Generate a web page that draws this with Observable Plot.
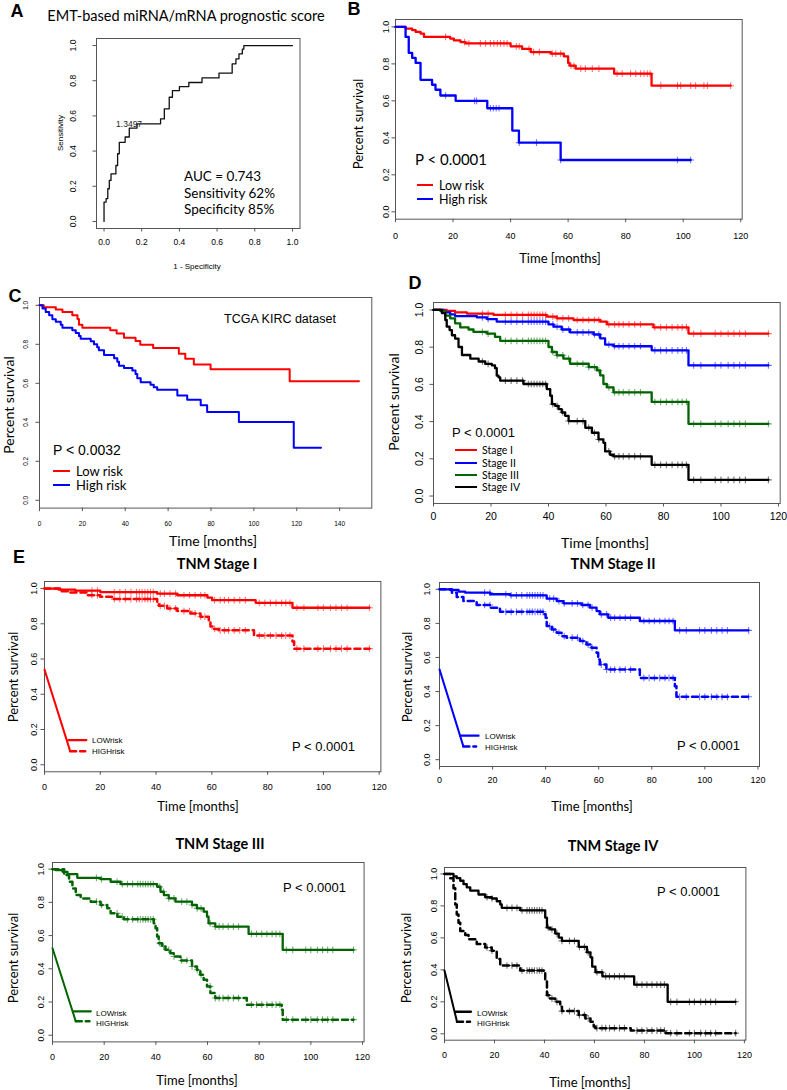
<!DOCTYPE html>
<html><head><meta charset="utf-8">
<script src="https://cdn.jsdelivr.net/npm/d3@7"></script>
<script src="https://cdn.jsdelivr.net/npm/@observablehq/plot@0.6"></script>
<style>
body{margin:0;background:#fff;}
#fig{position:relative;width:787px;height:1090px;overflow:hidden;background:#fff;}
.t{position:absolute;white-space:nowrap;line-height:1;color:#000;}
.lg{position:absolute;}
svg{overflow:visible;}
</style></head><body><div id="fig"></div>
<script>
// ---------------- DATA ----------------
// Panel A: ROC staircase (fpr, tpr) – rise happens at fpr
const rocPoints = [[0,0],[0,0.11],[0.011,0.13],[0.02,0.186],[0.028,0.233],[0.037,0.27],[0.063,0.318],[0.072,0.385],[0.081,0.45],[0.112,0.48],[0.134,0.53],[0.175,0.555],[0.30,0.583],[0.32,0.64],[0.346,0.706],[0.363,0.744],[0.40,0.767],[0.45,0.79],[0.52,0.816],[0.61,0.843],[0.68,0.896],[0.70,0.924],[0.716,0.953],[0.734,0.98],[0.742,1.0],[1.0,1.0]];
const rocThreshold = [{fpr:0.133, tpr:0.55, label:"1.3497"}];
const aucLines = ["AUC = 0.743","Sensitivity 62%","Specificity 85%"];
const unitTicks = [0,0.2,0.4,0.6,0.8,1.0];
const monthTicks = [0,20,40,60,80,100,120];
const monthTicksC = [0,20,40,60,80,100,120,140];

// Panel B: KM (time, survival after step)
const bLow = [[0,1],[3.5,0.991],[5.8,0.982],[7,0.973],[8.7,0.964],[9.9,0.946],[19,0.937],[20.3,0.927],[22.6,0.918],[24.3,0.911],[40,0.895],[44,0.881],[47,0.864],[54,0.855],[58.5,0.841],[60,0.805],[60.5,0.79],[62.6,0.774],[76,0.747],[89,0.682]];
const bLowEnd = 116.5;
const bLowCensor = [17.4,24,25.5,29.5,31.3,33,34.2,35.4,36.5,37.7,38.8,42,43,46.4,48,50,54.5,55.7,57.4,61,62,64.4,66,68.4,70.7,77,78.8,81.7,83.5,85.2,86.4,87.5,88.5,92.2,98,99.1,102.6,104.3,107.2,108.4,116.5];
const bHigh = [[0,1],[3.5,0.946],[4.6,0.859],[5.8,0.832],[7,0.805],[8.7,0.714],[12.7,0.687],[13.9,0.66],[15.6,0.629],[20.9,0.6],[31.9,0.56],[40.6,0.439],[42.9,0.374],[57.4,0.28]];
const bHighEnd = 102.6;
const bHighCensor = [17.4,27.5,28.2,33,34,35,36,43,49,57.4,98,102.6];

// Panel C: TCGA KIRC
const cLow = [[0,1],[2,0.99],[7.6,0.979],[10.7,0.966],[15.3,0.949],[17.7,0.93],[18.4,0.9],[20,0.885],[33,0.872],[36,0.855],[39.4,0.834],[44.8,0.817],[47,0.798],[53,0.781],[65,0.752],[68,0.726],[72,0.697],[79.8,0.672],[116.7,0.61]];
const cLowEnd = 149;
const cHigh = [[0,1],[1.4,0.983],[2.9,0.966],[4.5,0.949],[6,0.929],[7.6,0.915],[9.9,0.9],[10.7,0.885],[15.3,0.872],[16.9,0.858],[18.4,0.843],[19.2,0.829],[23.9,0.815],[25.4,0.8],[26.9,0.785],[27.7,0.77],[30.1,0.745],[34.8,0.728],[36.3,0.71],[37.1,0.69],[39.4,0.679],[43.3,0.665],[44.8,0.648],[45.6,0.626],[47.2,0.605],[51.8,0.592],[53.3,0.58],[54.9,0.567],[64.3,0.538],[68.9,0.516],[75.2,0.487],[78.2,0.453],[93,0.402],[118.6,0.27]];
const cHighEnd = 131.3;

// Panel D: stages
const stageNames = ["Stage I","Stage II","Stage III","Stage IV"];
const dStage1 = [[0,1],[4.6,0.995],[7.5,0.987],[11.6,0.98],[20.9,0.973],[39.4,0.964],[42.9,0.955],[48.7,0.946],[58,0.937],[60.3,0.922],[76.5,0.906],[88.7,0.873]];
const dStage2 = [[0,1],[3.5,0.987],[5.8,0.976],[7.5,0.967],[15.1,0.96],[18.6,0.951],[22,0.937],[40,0.922],[41.8,0.91],[44.6,0.895],[47.5,0.879],[55.7,0.868],[58,0.847],[59.7,0.814],[62.6,0.805],[75.9,0.783],[88.7,0.702]];
const dStage3 = [[0,1],[2.3,0.995],[4.1,0.969],[5.8,0.955],[7.5,0.928],[9.3,0.906],[12.2,0.895],[13.9,0.882],[18.6,0.873],[21.4,0.855],[23.2,0.834],[40,0.801],[41.2,0.774],[42.9,0.756],[45.2,0.738],[47.5,0.711],[54,0.693],[56.8,0.675],[58,0.648],[59.1,0.602],[60.3,0.584],[62.6,0.557],[75.9,0.506],[88.7,0.388]];
const dStage4 = [[0,1],[2.9,0.983],[4.1,0.946],[4.6,0.91],[5.6,0.892],[6.4,0.864],[7.5,0.846],[8.7,0.801],[9.9,0.758],[12.8,0.738],[15.7,0.723],[18,0.71],[20.3,0.702],[21.4,0.687],[22,0.647],[22.6,0.638],[23.2,0.62],[31.3,0.602],[39.4,0.575],[40.6,0.539],[41.2,0.494],[42.3,0.485],[43.5,0.467],[44.6,0.449],[45.8,0.431],[47,0.403],[52.8,0.367],[55.1,0.34],[57.4,0.304],[59.1,0.286],[59.7,0.24],[61.4,0.222],[62.6,0.213],[75.9,0.168],[88.7,0.087]];
const cohortEnd = 116.5;
const cohortCensor = [17,19,25,27,29,31,33,34,35,36,37,38,39,41.5,43,45,47,50,52,54,56,57.5,61,63,64.5,66,68,70,72,77,79,81,83,85,86.5,88,90.5,93,98,100,102.5,104.5,106.5,108.5,116.5];

// Panel E: LOW (solid) vs HIGH (dashed) per TNM stage
const e1Low = [[0,1],[5,0.994],[11,0.988],[20,0.98],[40.4,0.971],[47.6,0.962],[58.4,0.949],[60.1,0.934],[75.7,0.919],[88.9,0.891]];
const e1High = [[0,1],[5.6,0.984],[9.2,0.977],[15.2,0.962],[20,0.953],[24.2,0.94],[40.4,0.925],[41,0.902],[44,0.887],[47.6,0.872],[52.4,0.859],[55.9,0.84],[58.9,0.812],[59.5,0.784],[60.7,0.771],[62.5,0.763],[75.1,0.733],[88.9,0.7],[89.5,0.659]];
const e2Low = [[0,1],[4,0.996],[7.2,0.986],[9.7,0.98],[19.1,0.971],[26.6,0.965],[40.4,0.945],[44.2,0.931],[46.7,0.918],[53.6,0.908],[56.7,0.892],[59.2,0.872],[60.4,0.853],[63.6,0.833],[75.5,0.814],[88.7,0.759]];
const e2High = [[0,1],[4.7,0.98],[6.5,0.955],[9,0.931],[14,0.908],[19.1,0.892],[22.8,0.868],[39.1,0.853],[40,0.833],[40.4,0.784],[42.3,0.764],[44.2,0.745],[46,0.725],[47.9,0.716],[52.9,0.696],[55.4,0.676],[57.3,0.657],[59.2,0.627],[59.8,0.588],[60.4,0.559],[62.9,0.529],[75.5,0.48],[88.7,0.431],[89.3,0.369]];
const e3Low = [[0,1],[1.3,0.994],[3.9,0.984],[5.8,0.97],[9.6,0.948],[18.6,0.94],[22.5,0.924],[26.4,0.91],[40.5,0.894],[41.8,0.864],[43.1,0.844],[45,0.824],[47.6,0.804],[54,0.784],[55.9,0.764],[58.5,0.744],[59.8,0.714],[60.4,0.674],[63,0.654],[75.9,0.61],[89.1,0.514]];
const e3High = [[0,1],[4.5,0.964],[6.4,0.924],[7.7,0.884],[9,0.844],[10.9,0.824],[14.8,0.804],[18.6,0.784],[21.2,0.764],[22.5,0.734],[25.1,0.714],[27.6,0.698],[39.2,0.674],[39.9,0.644],[40.5,0.594],[41.1,0.554],[42.4,0.534],[43.7,0.514],[45.6,0.494],[46.9,0.474],[49.5,0.45],[54,0.414],[55.9,0.394],[57.2,0.364],[58.5,0.334],[59.8,0.294],[61.1,0.254],[63,0.224],[75.2,0.184],[88.7,0.154],[89.1,0.094]];
const e4Low = [[0,1],[3.6,0.985],[4.9,0.973],[6.3,0.957],[7.6,0.936],[8.9,0.916],[10.3,0.895],[13.6,0.871],[16.3,0.854],[18.9,0.846],[20.9,0.829],[22.3,0.809],[22.9,0.788],[30.3,0.772],[40.3,0.726],[41,0.664],[42.3,0.653],[44.3,0.627],[45.7,0.602],[47,0.581],[53.7,0.544],[57,0.509],[58.4,0.478],[59.1,0.42],[60.4,0.385],[63.2,0.359],[75.9,0.307],[89.3,0.2]];
const e4High = [[0,1],[2.3,0.973],[3.6,0.911],[4.3,0.808],[4.9,0.746],[5.6,0.695],[6.3,0.643],[8.3,0.618],[9.6,0.592],[12.9,0.561],[16.3,0.54],[18.9,0.52],[20.9,0.468],[22.3,0.427],[30.3,0.396],[39.7,0.385],[40.3,0.334],[41,0.241],[42.3,0.22],[44.3,0.2],[46.3,0.169],[47,0.142],[53.7,0.117],[56.4,0.096],[58.4,0.076],[59.7,0.045],[60.4,0.035],[74.5,0.02],[88.6,0.004]];
// stray legend segment drawn inside each E plot: [time, survival] start & end
const eSlash = [[[0,0.54],[9.2,0.077]],[[0,0.53],[9,0.078]],[[0,0.524],[9,0.084]],[[0,0.396],[5,0.076]]];
const eLegendX = [[8.6,15,9.2,14.6],[7.8,14.7,9,13.8],[8.1,14.8,9,14.3],[4.3,10.6,5,10.2]];
const eLegendY = [[0.14,0.077],[0.141,0.078],[0.144,0.084],[0.138,0.076]];

// ---------------- HELPERS ----------------
const fig = document.getElementById("fig");
const ARIAL = "'Liberation Sans', Arial, sans-serif";
const CALI = "Lato, 'Open Sans', sans-serif";
function T(x, y, s, font, opt = {}) {
  const d = document.createElement("div");
  d.className = "t"; d.textContent = s; d.style.font = font;
  const tx = opt.anchor === "start" ? "0" : opt.anchor === "end" ? "-100%" : "-50%";
  d.style.left = x + "px"; d.style.top = y + "px";
  d.style.transform = `translate(${tx},-50%)` + (opt.rot ? ` rotate(${opt.rot}deg)` : "");
  fig.appendChild(d);
}
function L(x1, x2, y, color, w = 2.5) {
  const d = document.createElement("div"); d.className = "lg";
  d.style.left = x1 + "px"; d.style.top = (y - w / 2) + "px";
  d.style.width = (x2 - x1) + "px"; d.style.height = w + "px"; d.style.background = color;
  fig.appendChild(d);
}
function stepAt(steps, t) {
  const i = d3.bisector(d => d[0]).right(steps, t) - 1;
  return steps[Math.max(0, i)][1];
}
const withEnd = (steps, end) => [...steps, [end, steps[steps.length - 1][1]]];

function place(svg, fl, ft, mL, mT) {
  svg.style.position = "absolute";
  svg.style.left = (fl - mL) + "px";
  svg.style.top = (ft - mT) + "px";
  fig.appendChild(svg);
}

function kmPanel(cfg) {
  const [fl, ft, fr, fb] = cfg.frame;
  const mL = 45, mR = 10, mT = 10, mB = 40;
  const marks = [
    Plot.frame({stroke: "#555", strokeWidth: 1}),
    Plot.axisX(cfg.xTicks, {tickSize: 3.5, tickPadding: cfg.xPad, label: null, fontSize: cfg.tickFont, stroke: "#555"}),
    Plot.axisY(unitTicks, {tickSize: 3.5, tickRotate: -90, tickPadding: cfg.yPad, tickFormat: d => d.toFixed(1), label: null, fontSize: cfg.tickFont, stroke: "#555"})
  ];
  for (const c of cfg.curves) {
    marks.push(Plot.line(withEnd(c.steps, c.end), {x: d => d[0], y: d => d[1], curve: "step-after", stroke: c.color, strokeWidth: c.width || 2.3, strokeDasharray: c.dash || null}));
    if (c.censor) marks.push(Plot.dot(c.censor.filter(t => t <= c.end), {x: d => d, y: d => stepAt(c.steps, d), symbol: "plus", r: 2.3, stroke: c.color, strokeWidth: 1.1, strokeOpacity: 0.55}));
  }
  if (cfg.extra) marks.push(...cfg.extra);
  const svg = Plot.plot({
    width: fr - fl + mL + mR, height: fb - ft + mT + mB,
    marginLeft: mL, marginRight: mR, marginTop: mT, marginBottom: mB,
    x: {domain: cfg.xDomain}, y: {domain: [-0.04, 1.04]},
    style: {fontFamily: ARIAL, color: "#000", background: "transparent", overflow: "visible"},
    marks
  });
  place(svg, fl, ft, mL, mT);
}

// ---------------- PANEL A ----------------
{
  const [fl, ft, fr, fb] = [96, 38, 299.5, 228];
  const mL = 45, mR = 10, mT = 10, mB = 40;
  const svg = Plot.plot({
    width: fr - fl + mL + mR, height: fb - ft + mT + mB,
    marginLeft: mL, marginRight: mR, marginTop: mT, marginBottom: mB,
    x: {domain: [-0.04, 1.04]}, y: {domain: [-0.04, 1.04]},
    style: {fontFamily: ARIAL, color: "#000", background: "transparent", overflow: "visible"},
    marks: [
      Plot.frame({stroke: "#555"}),
      Plot.axisX(unitTicks, {tickSize: 3.5, tickPadding: 7, label: null, fontSize: 8.5, tickFormat: d => d.toFixed(1), stroke: "#555"}),
      Plot.axisY(unitTicks, {tickSize: 3.5, tickRotate: -90, tickPadding: 17, label: null, fontSize: 8.5, tickFormat: d => d.toFixed(1), stroke: "#555"}),
      Plot.line(rocPoints, {x: d => d[0], y: d => d[1], curve: "step-after", stroke: "#111", strokeWidth: 1.3}),
      Plot.text(rocThreshold, {x: "fpr", y: "tpr", text: "label", fontSize: 8.5, fill: "#222"})
    ]
  });
  place(svg, fl, ft, mL, mT);
  T(17, 11, "A", `bold 18px ${ARIAL}`);
  T(186, 15, "EMT-based miRNA/mRNA prognostic score", `14.5px ${CALI}`);
  T(60, 133, "Sensitivity", `8px ${ARIAL}`, {rot: -90});
  T(197, 266, "1 - Specificity", `8px ${ARIAL}`);
  aucLines.forEach((s, i) => T(184, 176 + i * 16.5, s, `13.5px ${CALI}`, {anchor: "start"}));
}

// ---------------- PANEL B ----------------
kmPanel({frame: [395, 19.3, 741.7, 219], xDomain: [0, 120.5], xTicks: monthTicks, xPad: 9.5, yPad: 3.5, tickFont: 9,
  curves: [
    {steps: bLow, end: bLowEnd, censor: bLowCensor, color: "#ff0000"},
    {steps: bHigh, end: bHighEnd, censor: bHighCensor, color: "#0000ff"}
  ]});
T(354, 9, "B", `bold 18px ${ARIAL}`);
T(358, 124, "Percent survival", `13px ${CALI}`, {rot: -90});
T(560, 258, "Time [months]", `13px ${CALI}`);
T(415, 159, "P < 0.0001", `15px ${CALI}`, {anchor: "start"});
L(417, 433, 185, "#ff0000"); L(417, 433, 199, "#0000ff");
T(439, 185, "Low risk", `12.5px ${CALI}`, {anchor: "start"});
T(439, 199, "High risk", `12.5px ${CALI}`, {anchor: "start"});

// ---------------- PANEL C ----------------
kmPanel({frame: [38.7, 296.7, 371, 507.3], xDomain: [0, 155], xTicks: monthTicksC, xPad: 9.5, yPad: 8, tickFont: 6.5,
  curves: [
    {steps: cLow, end: cLowEnd, color: "#ff0000", width: 2},
    {steps: cHigh, end: cHighEnd, color: "#0000ff", width: 2}
  ]});
T(15, 296, "C", `bold 18px ${ARIAL}`);
T(8, 405, "Percent survival", `14px ${CALI}`, {rot: -90});
T(213, 540, "Time [months]", `14px ${CALI}`);
T(280, 319, "TCGA KIRC dataset", `12.5px ${ARIAL}`);
T(53, 450, "P < 0.0032", `14px ${ARIAL}`, {anchor: "start"});
L(53, 70, 471, "#ff0000"); L(53, 70, 485, "#0000ff");
T(76, 471, "Low risk", `13px ${CALI}`, {anchor: "start"});
T(76, 485, "High risk", `13px ${CALI}`, {anchor: "start"});

// ---------------- PANEL D ----------------
const stageColors = ["#ff0000", "#0000ff", "#006400", "#000000"];
kmPanel({frame: [433.3, 301.7, 780, 502.7], xDomain: [0, 120.6], xTicks: monthTicks, xPad: 6, yPad: 7.4, tickFont: 10.5,
  curves: [dStage1, dStage2, dStage3, dStage4].map((s, i) => ({steps: s, end: cohortEnd, censor: cohortCensor, color: stageColors[i]}))});
T(415, 283, "D", `bold 18px ${ARIAL}`);
T(393, 402, "Percent survival", `14px ${CALI}`, {rot: -90});
T(605, 542, "Time [months]", `14px ${CALI}`);
T(452, 432, "P < 0.0001", `13px ${ARIAL}`, {anchor: "start"});
stageNames.forEach((s, i) => {
  const y = [450, 463, 475, 487][i];
  L(455, 477, y, stageColors[i], 2.5);
  T(482, y, s, `10.5px ${CALI}`, {anchor: "start"});
});

// ---------------- PANEL E ----------------
const eFrames = [[44.3, 580.7, 380.7, 771], [439.3, 581.7, 759.3, 765.7], [51.7, 862.3, 363.3, 1041.7], [444.3, 867.3, 745.7, 1040]];
const eCurves = [[e1Low, e1High], [e2Low, e2High], [e3Low, e3High], [e4Low, e4High]];
const ePads = [[8.5, 4.1], [6.8, 5.8], [7.8, 4.9], [7.5, 4.1]];
const eTitles = ["TNM Stage I", "TNM Stage II", "TNM Stage III", "TNM Stage IV"];
eFrames.forEach((fr, i) => {
  const col = stageColors[i];
  const [lo, hi] = eCurves[i];
  const lx = eLegendX[i], ly = eLegendY[i];
  kmPanel({frame: fr, xDomain: [0, 120.6], xTicks: monthTicks, xPad: ePads[i][0], yPad: ePads[i][1], tickFont: 9,
    curves: [
      {steps: lo, end: cohortEnd, censor: cohortCensor, color: col, width: 2.3},
      {steps: hi, end: cohortEnd, censor: cohortCensor, color: col, width: 2.5, dash: "6,4"}
    ],
    extra: [
      Plot.line(eSlash[i], {x: d => d[0], y: d => d[1], stroke: col, strokeWidth: 2}),
      Plot.line([[lx[0], ly[0]], [lx[1], ly[0]]], {x: d => d[0], y: d => d[1], stroke: col, strokeWidth: 2.3}),
      Plot.line([[lx[2], ly[1]], [lx[3], ly[1]]], {x: d => d[0], y: d => d[1], stroke: col, strokeWidth: 2.5, strokeDasharray: "6,4"})
    ]});
});
T(19, 557, "E", `bold 18px ${ARIAL}`);
const eTitlePos = [[217, 563], [613, 563], [220, 843], [613, 845]];
const eYLab = [[13, 677], [407, 677], [13, 958], [406, 958]];
const eXLab = [[198, 806], [592, 806], [197, 1080], [590, 1082]];
const ePText = [[292, 746], [677, 745], [283, 887], [657, 891]];
const eLegText = [[92, 740, 751], [485, 736, 747], [96, 1013, 1023], [477, 1013, 1023]];
eTitles.forEach((s, i) => {
  T(eTitlePos[i][0], eTitlePos[i][1], s, `bold 14.5px ${CALI}`);
  T(eYLab[i][0], eYLab[i][1], "Percent survival", `13px ${CALI}`, {rot: -90});
  T(eXLab[i][0], eXLab[i][1], "Time [months]", `13px ${CALI}`);
  T(ePText[i][0], ePText[i][1], "P < 0.0001", `13px ${ARIAL}`, {anchor: "start"});
  T(eLegText[i][0], eLegText[i][1], "LOWrisk", `8px ${ARIAL}`, {anchor: "start"});
  T(eLegText[i][0], eLegText[i][2], "HIGHrisk", `8px ${ARIAL}`, {anchor: "start"});
});
</script></body></html>
